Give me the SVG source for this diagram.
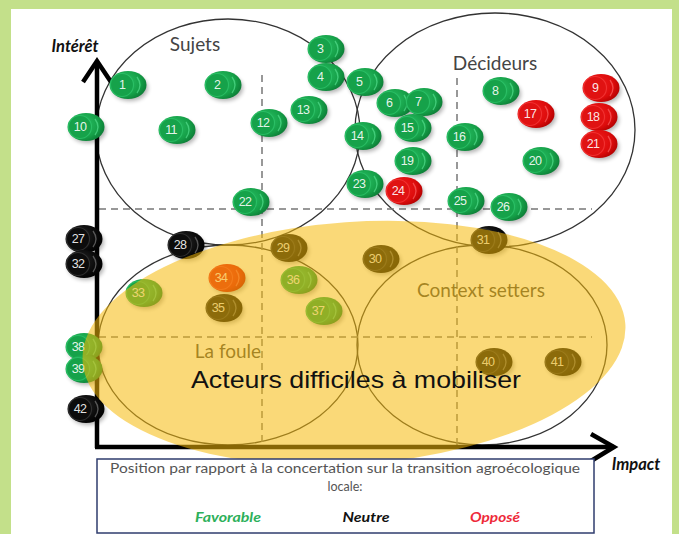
<svg xmlns="http://www.w3.org/2000/svg" xmlns:xlink="http://www.w3.org/1999/xlink" width="679" height="534" viewBox="0 0 679 534">
<style>
.zone{fill:none;stroke:#333;stroke-width:1.3}
.dash{fill:none;stroke:#777;stroke-width:1.5;stroke-dasharray:7 5}
.ax{fill:none;stroke:#000;stroke-width:4.5}
.zl{font-family:Lato,"Open Sans","DejaVu Sans",sans-serif;font-size:19px;fill:#444;text-anchor:middle}
.axl{font-family:Lato,"Open Sans","DejaVu Sans",sans-serif;font-size:16.5px;font-style:italic;font-weight:bold;fill:#111;text-anchor:middle}
.n{font-family:"Liberation Sans","DejaVu Sans",sans-serif;font-size:12.5px;fill:#fff;fill-opacity:0.9;text-anchor:middle;dominant-baseline:central;letter-spacing:-0.8px}
.leg{font-family:Lato,"Open Sans","DejaVu Sans",sans-serif;font-size:12.5px;fill:#555;text-anchor:middle}
.legk{font-family:Lato,"Open Sans","DejaVu Sans",sans-serif;font-size:14px;font-style:italic;font-weight:bold;text-anchor:middle}
</style>
<defs>
<filter id="blur" x="-50%" y="-50%" width="200%" height="200%"><feGaussianBlur stdDeviation="2.2"/></filter>
<radialGradient id="gG" cx="0.35" cy="0.4" r="0.7"><stop offset="0" stop-color="#2fc66a"/><stop offset="0.7" stop-color="#15a048"/><stop offset="1" stop-color="#0c7a35"/></radialGradient>
<radialGradient id="gR" cx="0.35" cy="0.4" r="0.7"><stop offset="0" stop-color="#f22020"/><stop offset="0.7" stop-color="#dd0c0c"/><stop offset="1" stop-color="#b00000"/></radialGradient>
<radialGradient id="gK" cx="0.35" cy="0.4" r="0.7"><stop offset="0" stop-color="#2a2a2a"/><stop offset="0.7" stop-color="#0a0a0a"/><stop offset="1" stop-color="#000"/></radialGradient>
<g id="tG">
<ellipse cx="8" cy="3" rx="18" ry="13" fill="#000" opacity="0.3" filter="url(#blur)"/>
<ellipse cx="6" cy="0" rx="18.5" ry="14" fill="url(#gG)"/>
<ellipse cx="0" cy="0" rx="11.5" ry="11.5" fill="#16a24a" stroke="#3bd67c" stroke-opacity="0.5" stroke-width="1.2"/>
<path d="M15 -8 Q21 0 15 8" fill="none" stroke="#5fe89a" stroke-opacity="0.6" stroke-width="1.3"/>
</g>
<g id="tR">
<ellipse cx="8" cy="3" rx="18" ry="13" fill="#000" opacity="0.3" filter="url(#blur)"/>
<ellipse cx="6" cy="0" rx="18.5" ry="14" fill="url(#gR)"/>
<ellipse cx="0" cy="0" rx="11.5" ry="11.5" fill="#e01212" stroke="#ff5050" stroke-opacity="0.5" stroke-width="1.2"/>
<path d="M15 -8 Q21 0 15 8" fill="none" stroke="#ff7070" stroke-opacity="0.6" stroke-width="1.3"/>
</g>
<g id="tK">
<ellipse cx="8" cy="3" rx="18" ry="13" fill="#000" opacity="0.3" filter="url(#blur)"/>
<ellipse cx="6" cy="0" rx="18.5" ry="14" fill="url(#gK)"/>
<ellipse cx="0" cy="0" rx="11.5" ry="11.5" fill="#0c0c0c" stroke="#444" stroke-opacity="0.6" stroke-width="1.2"/>
<path d="M15 -8 Q21 0 15 8" fill="none" stroke="#777" stroke-opacity="0.7" stroke-width="1.3"/>
</g>
</defs>
<rect x="0" y="0" width="679" height="534" fill="#c3e08a"/>
<rect x="11" y="9" width="661" height="525" fill="#fff"/>

<g id="zones">
<ellipse class="zone" cx="228" cy="132" rx="132" ry="113"/>
<ellipse class="zone" cx="495" cy="130" rx="140" ry="117"/>
<ellipse class="zone" cx="228" cy="345" rx="130" ry="100"/>
<ellipse class="zone" cx="482" cy="345" rx="125" ry="100"/>
<line class="dash" x1="262" y1="75" x2="262" y2="445"/>
<line class="dash" x1="457" y1="78" x2="457" y2="445"/>
<line class="dash" x1="99" y1="209" x2="592" y2="209"/>
<line class="dash" x1="99" y1="337" x2="592" y2="337"/>
<text class="zl" x="195" y="51">Sujets</text>
<text class="zl" x="495" y="70">Décideurs</text>
<text class="zl" x="481" y="297">Context setters</text>
<text class="zl" x="228" y="358">La foule</text>
</g>

<g id="axes">
<path class="ax" d="M97 448 V62"/>
<path class="ax" d="M83 82 L97 61 L111 82"/>
<path class="ax" d="M95 447 H614"/>
<path class="ax" d="M591 434 L614 447 L591 461"/>
<text class="axl" x="75" y="52">Intérêt</text>
<text class="axl" x="636" y="470">Impact</text>
</g>

<g id="nodes">
<g id="n1"><use xlink:href="#tG" x="122" y="85"/><text class="n" x="122" y="85">1</text></g>
<g id="n2"><use xlink:href="#tG" x="217" y="85"/><text class="n" x="217" y="85">2</text></g>
<g id="n3"><use xlink:href="#tG" x="320" y="49"/><text class="n" x="320" y="49">3</text></g>
<g id="n4"><use xlink:href="#tG" x="320" y="77"/><text class="n" x="320" y="77">4</text></g>
<g id="n5"><use xlink:href="#tG" x="359" y="82"/><text class="n" x="359" y="82">5</text></g>
<g id="n6"><use xlink:href="#tG" x="389" y="103"/><text class="n" x="389" y="103">6</text></g>
<g id="n7"><use xlink:href="#tG" x="418" y="102"/><text class="n" x="418" y="102">7</text></g>
<g id="n8"><use xlink:href="#tG" x="495" y="91"/><text class="n" x="495" y="91">8</text></g>
<g id="n9"><use xlink:href="#tR" x="595" y="88"/><text class="n" x="595" y="88">9</text></g>
<g id="n10"><use xlink:href="#tG" x="80" y="127"/><text class="n" x="80" y="127">10</text></g>
<g id="n11"><use xlink:href="#tG" x="171" y="130"/><text class="n" x="171" y="130">11</text></g>
<g id="n12"><use xlink:href="#tG" x="263" y="123"/><text class="n" x="263" y="123">12</text></g>
<g id="n13"><use xlink:href="#tG" x="303" y="110"/><text class="n" x="303" y="110">13</text></g>
<g id="n14"><use xlink:href="#tG" x="357" y="136"/><text class="n" x="357" y="136">14</text></g>
<g id="n15"><use xlink:href="#tG" x="407" y="128"/><text class="n" x="407" y="128">15</text></g>
<g id="n16"><use xlink:href="#tG" x="459" y="137"/><text class="n" x="459" y="137">16</text></g>
<g id="n17"><use xlink:href="#tR" x="530" y="114"/><text class="n" x="530" y="114">17</text></g>
<g id="n18"><use xlink:href="#tR" x="593" y="117"/><text class="n" x="593" y="117">18</text></g>
<g id="n21"><use xlink:href="#tR" x="593" y="144"/><text class="n" x="593" y="144">21</text></g>
<g id="n19"><use xlink:href="#tG" x="407" y="161"/><text class="n" x="407" y="161">19</text></g>
<g id="n20"><use xlink:href="#tG" x="535" y="161"/><text class="n" x="535" y="161">20</text></g>
<g id="n22"><use xlink:href="#tG" x="245" y="202"/><text class="n" x="245" y="202">22</text></g>
<g id="n23"><use xlink:href="#tG" x="359" y="184"/><text class="n" x="359" y="184">23</text></g>
<g id="n24"><use xlink:href="#tR" x="398" y="191"/><text class="n" x="398" y="191">24</text></g>
<g id="n25"><use xlink:href="#tG" x="460" y="201"/><text class="n" x="460" y="201">25</text></g>
<g id="n26"><use xlink:href="#tG" x="503" y="207"/><text class="n" x="503" y="207">26</text></g>
<g id="n27"><use xlink:href="#tK" x="78" y="239"/><text class="n" x="78" y="239">27</text></g>
<g id="n32"><use xlink:href="#tK" x="78" y="264"/><text class="n" x="78" y="264">32</text></g>
<g id="n28"><use xlink:href="#tK" x="180" y="245"/><text class="n" x="180" y="245">28</text></g>
<g id="n29"><use xlink:href="#tK" x="283" y="248"/><text class="n" x="283" y="248">29</text></g>
<g id="n30"><use xlink:href="#tK" x="375" y="259"/><text class="n" x="375" y="259">30</text></g>
<g id="n31"><use xlink:href="#tK" x="483" y="240"/><text class="n" x="483" y="240">31</text></g>
<g id="n33"><use xlink:href="#tG" x="138" y="293"/><text class="n" x="138" y="293">33</text></g>
<g id="n34"><use xlink:href="#tR" x="221" y="278"/><text class="n" x="221" y="278">34</text></g>
<g id="n35"><use xlink:href="#tK" x="218" y="308"/><text class="n" x="218" y="308">35</text></g>
<g id="n36"><use xlink:href="#tG" x="293" y="280"/><text class="n" x="293" y="280">36</text></g>
<g id="n37"><use xlink:href="#tG" x="318" y="311"/><text class="n" x="318" y="311">37</text></g>
<g id="n38"><use xlink:href="#tG" x="78" y="347"/><text class="n" x="78" y="347">38</text></g>
<g id="n39"><use xlink:href="#tG" x="78" y="369"/><text class="n" x="78" y="369">39</text></g>
<g id="n40"><use xlink:href="#tK" x="488" y="362"/><text class="n" x="488" y="362">40</text></g>
<g id="n41"><use xlink:href="#tK" x="557" y="362"/><text class="n" x="557" y="362">41</text></g>
<g id="n42"><use xlink:href="#tK" x="80" y="409"/><text class="n" x="80" y="409">42</text></g>
</g>

<g id="overlay">
<ellipse cx="354" cy="343" rx="272" ry="121" transform="rotate(-4 354 343)" fill="#f5b90a" fill-opacity="0.55"/>
<text x="356" y="388" font-family="'Liberation Sans','DejaVu Sans',sans-serif" font-size="24" fill="#111" text-anchor="middle" textLength="330" lengthAdjust="spacingAndGlyphs">Acteurs difficiles à mobiliser</text>
</g>

<g id="legend">
<rect x="97" y="459" width="497" height="74" fill="#fff" stroke="#2f3d6e" stroke-width="1.5"/>
<text class="leg" x="345" y="473" textLength="470" lengthAdjust="spacingAndGlyphs">Position par rapport à la concertation sur la transition agroécologique</text>
<text class="leg" x="345" y="491">locale:</text>
<text class="legk" x="228" y="522" fill="#2db05a" textLength="66" lengthAdjust="spacingAndGlyphs">Favorable</text>
<text class="legk" x="366" y="522" fill="#111" textLength="47" lengthAdjust="spacingAndGlyphs">Neutre</text>
<text class="legk" x="495" y="522" fill="#ee2a3a" textLength="50" lengthAdjust="spacingAndGlyphs">Opposé</text>
</g>
</svg>
